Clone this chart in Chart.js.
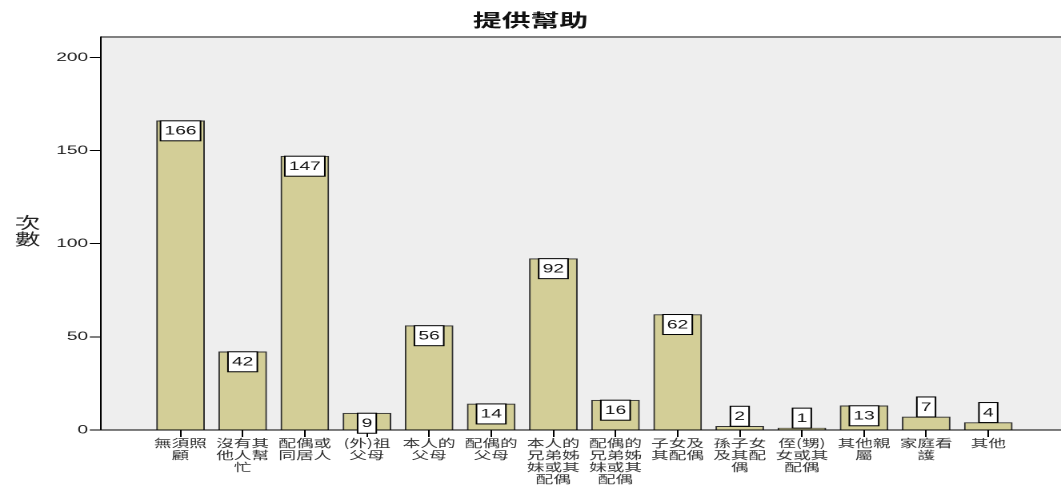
<!DOCTYPE html>
<html>
<head>
<meta charset="utf-8">
<script src="https://cdn.jsdelivr.net/npm/chart.js@4"></script>
<style>
html,body{margin:0;padding:0;background:#fff;}
#wrap{width:1061px;height:485px;overflow:hidden;}
</style>
</head>
<body>
<div id="wrap"><canvas id="c" width="663" height="485" style="width:1061px;height:485px;display:block"></canvas></div>
<script>
const chartTitle = '提供幫助';
const yAxisTitle = ['次', '數'];
const categoryLines = [
  ['無須照', '顧'],
  ['沒有其', '他人幫', '忙'],
  ['配偶或', '同居人'],
  ['(外)祖', '父母'],
  ['本人的', '父母'],
  ['配偶的', '父母'],
  ['本人的', '兄弟姊', '妹或其', '配偶'],
  ['配偶的', '兄弟姊', '妹或其', '配偶'],
  ['子女及', '其配偶'],
  ['孫子女', '及其配', '偶'],
  ['侄(甥)', '女或其', '配偶'],
  ['其他親', '屬'],
  ['家庭看', '護'],
  ['其他']
];
const counts = [166, 42, 147, 9, 56, 14, 92, 16, 62, 2, 1, 13, 7, 4];
const yTicks = [0, 50, 100, 150, 200];

const bgPlugin = {
  id: 'bg',
  beforeDraw(chart) {
    const {ctx, chartArea: a} = chart;
    ctx.save();
    ctx.fillStyle = '#EEEEEE';
    ctx.fillRect(a.left, a.top, a.right - a.left, a.bottom - a.top);
    ctx.strokeStyle = '#808080';
    ctx.lineWidth = 2;
    ctx.beginPath();
    ctx.moveTo(a.left, a.top);
    ctx.lineTo(a.right, a.top);
    ctx.stroke();
    ctx.restore();
  }
};

const boxPlugin = {
  id: 'boxes',
  afterDatasetsDraw(chart) {
    const {ctx} = chart;
    const meta = chart.getDatasetMeta(0);
    ctx.save();
    ctx.font = '12px "Liberation Sans", Arial, sans-serif';
    ctx.textAlign = 'center';
    ctx.textBaseline = 'middle';
    meta.data.forEach((el, i) => {
      const v = counts[i];
      const txt = String(v);
      const w = ctx.measureText(txt).width + 5;
      const h = 20;
      const top = v >= 8 ? el.y : el.y - h;
      ctx.fillStyle = '#ffffff';
      ctx.fillRect(el.x - w / 2, top, w, h);
      ctx.strokeStyle = '#000000';
      ctx.lineWidth = 1;
      ctx.strokeRect(el.x - w / 2, top, w, h);
      ctx.fillStyle = '#111111';
      ctx.fillText(txt, el.x, top + h / 2 + 0.5);
    });
    ctx.restore();
  }
};

const yTitlePlugin = {
  id: 'ytitle',
  afterDraw(chart) {
    const {ctx} = chart;
    ctx.save();
    ctx.font = '16px "Noto Sans CJK TC", sans-serif';
    ctx.fillStyle = '#222';
    ctx.textAlign = 'center';
    ctx.textBaseline = 'middle';
    yAxisTitle.forEach((ch, i) => {
      ctx.fillText(ch, 17.2, 222.5 + i * 16.5);
    });
    ctx.restore();
  }
};

new Chart(document.getElementById('c'), {
  type: 'bar',
  data: {
    datasets: [{
      data: counts.map((v, i) => ({x: i, y: v})),
      backgroundColor: '#D3CE97',
      borderColor: '#333333',
      borderWidth: 1,
      barThickness: 29.75
    }]
  },
  options: {
    responsive: false,
    animation: false,
    devicePixelRatio: 2,
    layout: {padding: 0},
    plugins: {
      legend: {display: false},
      tooltip: {enabled: false},
      title: {
        display: true,
        text: chartTitle,
        color: '#111',
        font: {family: '"Noto Sans CJK TC", sans-serif', size: 18, weight: 'bold', lineHeight: 1.2},
        padding: {top: 9.4, bottom: 6}
      }
    },
    scales: {
      x: {
        type: 'linear',
        offset: false,
        min: -1.28,
        max: 14.17,
        afterBuildTicks: (axis) => { axis.ticks = categoryLines.map((_, i) => ({value: i})); },
        afterFit: (scale) => { scale.height = 55; },
        ticks: {
          autoSkip: false,
          maxRotation: 0,
          minRotation: 0,
          padding: 0,
          color: '#333',
          font: {family: '"Noto Sans CJK TC", sans-serif', size: 11, lineHeight: 1.09},
          callback: (value, index) => categoryLines[index]
        },
        grid: {offset: false, drawOnChartArea: false, drawTicks: true, tickLength: 7, color: '#000'},
        border: {display: true, color: '#000', width: 1}
      },
      y: {
        min: 0,
        max: 211,
        afterBuildTicks: (axis) => { axis.ticks = yTicks.map(v => ({value: v})); },
        afterFit: (scale) => { scale.width = 63.1; },
        ticks: {
          padding: 1,
          color: '#222',
          font: {family: '"Liberation Sans", Arial, sans-serif', size: 12}
        },
        grid: {drawOnChartArea: false, drawTicks: true, tickLength: 7, color: '#000'},
        border: {display: true, color: '#000', width: 1}
      }
    }
  },
  plugins: [bgPlugin, boxPlugin, yTitlePlugin]
});
</script>
</body>
</html>
